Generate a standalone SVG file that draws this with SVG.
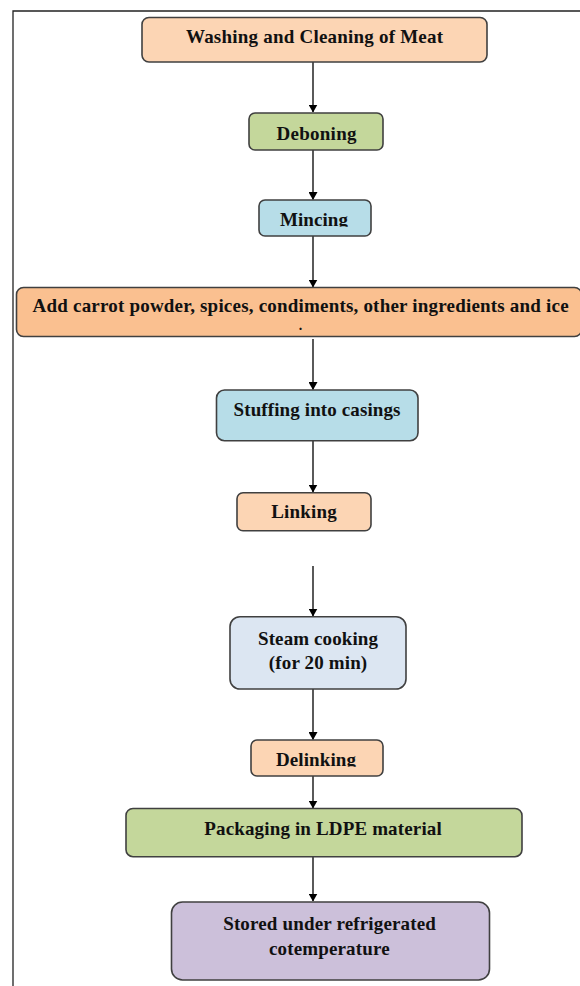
<svg xmlns="http://www.w3.org/2000/svg" width="580" height="986" viewBox="0 0 580 986">
<style>
.box{stroke:#404040;stroke-width:1.6}
.t{font-family:"Liberation Serif","Times New Roman",serif;font-weight:bold;font-size:19px;fill:#111;text-anchor:middle}
.c{stroke:#000;stroke-width:1.3;fill:none}
</style>
<defs>
<marker id="ah" markerWidth="8" markerHeight="9" refX="7.5" refY="4.5" orient="auto" markerUnits="userSpaceOnUse">
<path d="M0,0 L8,4.5 L0,9 Z" fill="#000"/>
</marker>
<clipPath id="clipM"><rect x="259" y="200" width="112" height="26.8"/></clipPath>
<clipPath id="clipD"><rect x="251" y="740" width="132" height="26.8"/></clipPath>
</defs>
<rect width="580" height="986" fill="#fff"/>
<path d="M13,986 L13,11 L580,11" fill="none" stroke="#222" stroke-width="1.3"/>
<g id="connectors">
<line class="c" x1="313" y1="62" x2="313" y2="112" marker-end="url(#ah)"/>
<line class="c" x1="313" y1="150" x2="313" y2="199.5" marker-end="url(#ah)"/>
<line class="c" x1="313" y1="236" x2="313" y2="287" marker-end="url(#ah)"/>
<line class="c" x1="313" y1="339" x2="313" y2="389.5" marker-end="url(#ah)"/>
<line class="c" x1="313" y1="441" x2="313" y2="492" marker-end="url(#ah)"/>
<line class="c" x1="313" y1="566" x2="313" y2="616" marker-end="url(#ah)"/>
<line class="c" x1="313" y1="689" x2="313" y2="739.5" marker-end="url(#ah)"/>
<line class="c" x1="313" y1="776" x2="313" y2="808" marker-end="url(#ah)"/>
<line class="c" x1="313" y1="857" x2="313" y2="901" marker-end="url(#ah)"/>
</g>
<g id="n1"><rect class="box" x="142" y="17.5" width="345" height="44.5" rx="7" fill="#FCD5B4"/>
<text class="t" x="314.5" y="43.3" textLength="257">Washing and Cleaning of Meat</text></g>
<g id="n2"><rect class="box" x="249" y="113" width="134" height="37" rx="6" fill="#C4D79B"/>
<text class="t" x="316.5" y="139.5" textLength="80">Deboning</text></g>
<g id="n3"><rect class="box" x="259" y="200" width="112" height="36" rx="6" fill="#B7DDE8"/>
<text class="t" x="314" y="226" textLength="68" clip-path="url(#clipM)">Mincing</text></g>
<g id="n4"><rect class="box" x="16.5" y="287.5" width="565" height="49" rx="7" fill="#FAC090"/>
<text class="t" x="300.6" y="311.5" textLength="536">Add carrot powder, spices, condiments, other ingredients and ice</text>
<text class="t" x="300.5" y="330" style="font-size:14px">.</text></g>
<g id="n5"><rect class="box" x="216.5" y="390" width="201.5" height="50.7" rx="8" fill="#B7DDE8"/>
<text class="t" x="317" y="416" textLength="167">Stuffing into casings</text></g>
<g id="n6"><rect class="box" x="237" y="492.7" width="134" height="38" rx="6" fill="#FCD5B4"/>
<text class="t" x="304" y="518.3" textLength="65.5">Linking</text></g>
<g id="n7"><rect class="box" x="230" y="616.7" width="176" height="72.3" rx="10" fill="#DCE6F2"/>
<text class="t" x="318" y="645" textLength="120">Steam cooking</text>
<text class="t" x="318" y="669" textLength="98.4">(for 20 min)</text></g>
<g id="n8"><rect class="box" x="251" y="740" width="132" height="36" rx="6" fill="#FCD5B4"/>
<text class="t" x="316" y="765.5" textLength="80" clip-path="url(#clipD)">Delinking</text></g>
<g id="n9"><rect class="box" x="126" y="808.5" width="396" height="48.2" rx="7" fill="#C4D79B"/>
<text class="t" x="323" y="835" textLength="237.5">Packaging in LDPE material</text></g>
<g id="n10"><rect class="box" x="171.5" y="902" width="318" height="78" rx="11" fill="#CCC0DA"/>
<text class="t" x="329.5" y="930" textLength="212.7">Stored under refrigerated</text>
<text class="t" x="329.3" y="955" textLength="120.6">cotemperature</text></g>
</svg>
